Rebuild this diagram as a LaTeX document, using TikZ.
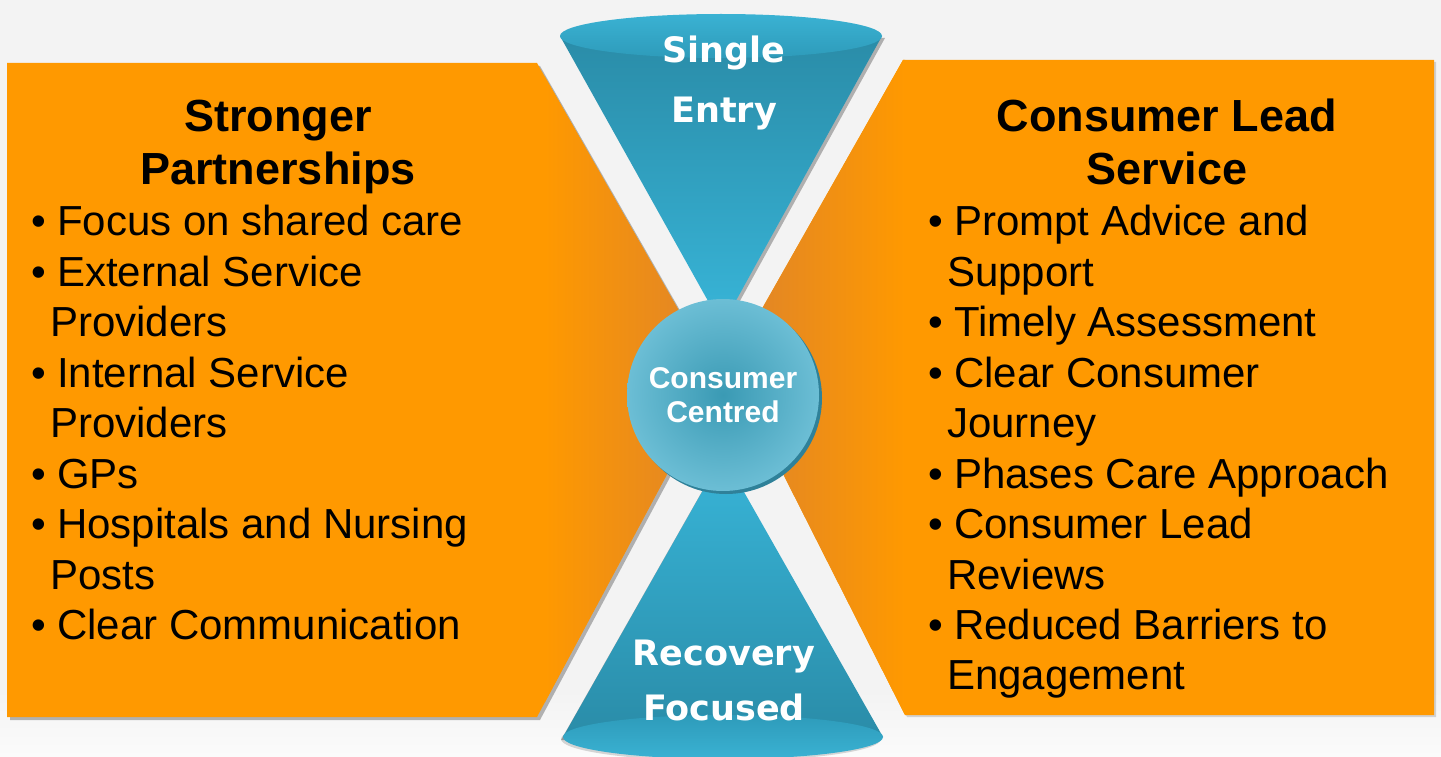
\documentclass[tikz,border=0pt]{standalone}
\usepackage{fontspec}
\setmainfont{Liberation Sans}
\newfontfamily\conefont{DejaVu Sans}
\definecolor{bg}{HTML}{F3F3F3}
\definecolor{bglight}{HTML}{FBFBFB}
\definecolor{orng}{HTML}{FF9900}
\definecolor{orngdk}{HTML}{DD832C}
\definecolor{conedk}{HTML}{2A8CA8}
\definecolor{conelt}{HTML}{38B5D8}
\definecolor{capdk}{HTML}{2E9BBA}
\definecolor{caplt}{HTML}{3AB2D3}
\definecolor{hubout}{HTML}{6CBED5}
\definecolor{hubin}{HTML}{3A9AB4}
\definecolor{hubrim}{HTML}{2F8199}
\tikzset{
  heading/.style={font=\bfseries\fontsize{45}{53}\selectfont, anchor=base, inner sep=0pt},
  entry/.style={font=\fontsize{42}{50}\selectfont, anchor=base west, inner sep=0pt},
  conetext/.style={font=\conefont\bfseries\fontsize{35}{42}\selectfont, text=white, anchor=base, inner sep=0pt},
  shadow/.style={fill=black, opacity=0.28},
}
\newcommand{\bul}{\makebox[26pt][l]{\textbullet}}
\begin{document}
\begin{tikzpicture}[x=1pt,y=-1pt]
\useasboundingbox (0,0) rectangle (1441,757);
% background
\fill[bg] (0,0) rectangle (1441,757);
\shade[top color=bg, bottom color=bglight] (0,690) rectangle (1441,757);

% left panel
\fill[shadow, shift={(3,3)}] (7,63) -- (537,63) -- (718,379) -- (537,717) -- (7,717) -- cycle;
\begin{scope}
  \clip (7,63) -- (537,63) -- (718,379) -- (537,717) -- (7,717) -- cycle;
  \fill[orng] (0,0) rectangle (760,757);
  \shade[left color=orng, right color=orngdk] (545,0) rectangle (718,757);
\end{scope}

% right panel
\fill[shadow, opacity=0.15, shift={(2,2)}] (903,60) -- (1434,60) -- (1434,715) -- (905,715) -- (729,367) -- cycle;
\begin{scope}
  \clip (903,60) -- (1434,60) -- (1434,715) -- (905,715) -- (729,367) -- cycle;
  \fill[orng] (700,0) rectangle (1441,757);
  \shade[left color=orngdk, right color=orng] (729,0) rectangle (905,757);
\end{scope}

% upper cone
\fill[shadow, shift={(3,2)}] (560,36) -- (722,326) -- (882,36) -- cycle;
\shade[top color=conedk, bottom color=conelt] (560,36) -- (722,326) -- (882,36) -- cycle;
\shade[top color=caplt, bottom color=capdk] (721,36) ellipse [x radius=161pt, y radius=22pt];

% lower cone
\fill[shadow, shift={(-2,3)}] (563,737) -- (723,455) -- (883,737) -- cycle;
\shade[top color=conelt, bottom color=conedk] (563,737) -- (723,455) -- (883,737) -- cycle;
\fill[shadow, opacity=0.15, shift={(-2,2)}] (723,737) ellipse [x radius=160pt, y radius=22pt];
\shade[top color=capdk, bottom color=caplt] (723,737) ellipse [x radius=160pt, y radius=22pt];

% hub
\fill[hubrim] (726,398) circle [radius=96pt];
\node[circle, inner sep=0pt, minimum size=192pt, inner color=hubin, outer color=hubout,
      text=white, align=center, font=\bfseries\fontsize{30}{34}\selectfont] (hub) at (723,395)
      {Consumer\\Centred};

% cone labels
\node[conetext] (se1) at (724,63) {Single};
\node[conetext] (se2) at (724,123) {Entry};
\node[conetext] (rf1) at (724,665) {Recovery};
\node[conetext] (rf2) at (724,720) {Focused};

% left panel text
\node[heading] (lh1) at (278,132) {Stronger};
\node[heading] (lh2) at (278,185) {Partnerships};
\node[entry] (l1) at (31,235) {\bul Focus on shared care};
\node[entry] (l2) at (31,286) {\bul External Service};
\node[entry] (l3) at (50,336) {Providers};
\node[entry] (l4) at (31,387) {\bul Internal Service};
\node[entry] (l5) at (50,437) {Providers};
\node[entry] (l6) at (31,488) {\bul GPs};
\node[entry] (l7) at (31,538) {\bul Hospitals and Nursing};
\node[entry] (l8) at (50,589) {Posts};
\node[entry] (l9) at (31,639) {\bul Clear Communication};

% right panel text
\node[heading] (rh1) at (1167,132) {Consumer Lead};
\node[heading] (rh2) at (1167,185) {Service};
\node[entry] (r1) at (928,235) {\bul Prompt Advice and};
\node[entry] (r2) at (947,286) {Support};
\node[entry] (r3) at (928,336) {\bul Timely Assessment};
\node[entry] (r4) at (928,387) {\bul Clear Consumer};
\node[entry] (r5) at (947,437) {Journey};
\node[entry] (r6) at (928,488) {\bul Phases Care Approach};
\node[entry] (r7) at (928,538) {\bul Consumer Lead};
\node[entry] (r8) at (947,589) {Reviews};
\node[entry] (r9) at (928,639) {\bul Reduced Barriers to};
\node[entry] (r10) at (947,689) {Engagement};
\end{tikzpicture}
\end{document}
